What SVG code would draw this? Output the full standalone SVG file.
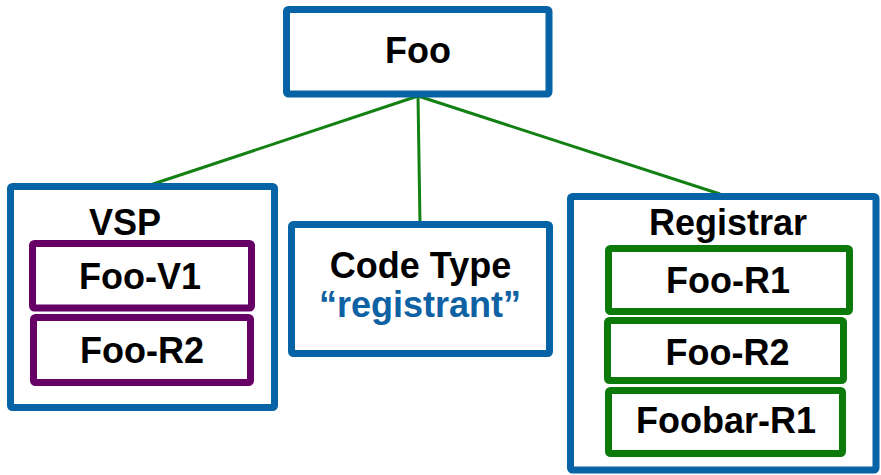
<svg xmlns="http://www.w3.org/2000/svg" width="881" height="475" viewBox="0 0 881 475">
<defs>
<style>
.box{fill:#fff;stroke:#0563A6;stroke-width:7}
.pur{fill:#fff;stroke:#660066;stroke-width:7}
.grn{fill:#fff;stroke:#0B7A0B;stroke-width:7}
.t{font-family:"Liberation Sans",Arial,sans-serif;font-weight:bold;font-size:36px;text-anchor:middle;fill:#000}
.b{fill:#0E62A4}
.c{stroke:#138013;stroke-width:3;fill:none}
</style>
</defs>
<rect width="881" height="475" fill="#fff"/>
<g id="connectors">
<line class="c" x1="418" y1="96" x2="150" y2="185"/>
<line class="c" x1="418" y1="96" x2="420" y2="224"/>
<line class="c" x1="418" y1="96" x2="720" y2="194"/>
</g>
<g id="foo">
<rect class="box" x="286.5" y="9.5" width="262.5" height="84.5" rx="2"/>
<text class="t" x="418" y="63">Foo</text>
</g>
<g id="vsp">
<rect class="box" x="10.5" y="186.5" width="264" height="221" rx="2"/>
<text class="t" x="125" y="235">VSP</text>
</g>
<g id="foo-v1">
<rect class="pur" x="32.5" y="243.5" width="219" height="64.5" rx="2"/>
<text class="t" x="140" y="289">Foo-V1</text>
</g>
<g id="vsp-foo-r2">
<rect class="pur" x="33.5" y="317.5" width="217" height="65" rx="2"/>
<text class="t" x="142" y="363">Foo-R2</text>
</g>
<g id="code-type">
<rect class="box" x="291.5" y="224.5" width="258" height="129" rx="2"/>
<text class="t" x="420.5" y="278">Code Type</text>
<text class="t b" x="420" y="317">“registrant”</text>
</g>
<g id="registrar">
<rect class="box" x="570.5" y="196.5" width="305.5" height="273.5" rx="2"/>
<text class="t" x="728" y="235">Registrar</text>
</g>
<g id="foo-r1">
<rect class="grn" x="608.5" y="248.5" width="241" height="63" rx="2"/>
<text class="t" x="728" y="293">Foo-R1</text>
</g>
<g id="reg-foo-r2">
<rect class="grn" x="607.5" y="320.5" width="236" height="60" rx="2"/>
<text class="t" x="727.5" y="365">Foo-R2</text>
</g>
<g id="foobar-r1">
<rect class="grn" x="608.5" y="390.5" width="234" height="63" rx="2"/>
<text class="t" x="726" y="433">Foobar-R1</text>
</g>
</svg>
